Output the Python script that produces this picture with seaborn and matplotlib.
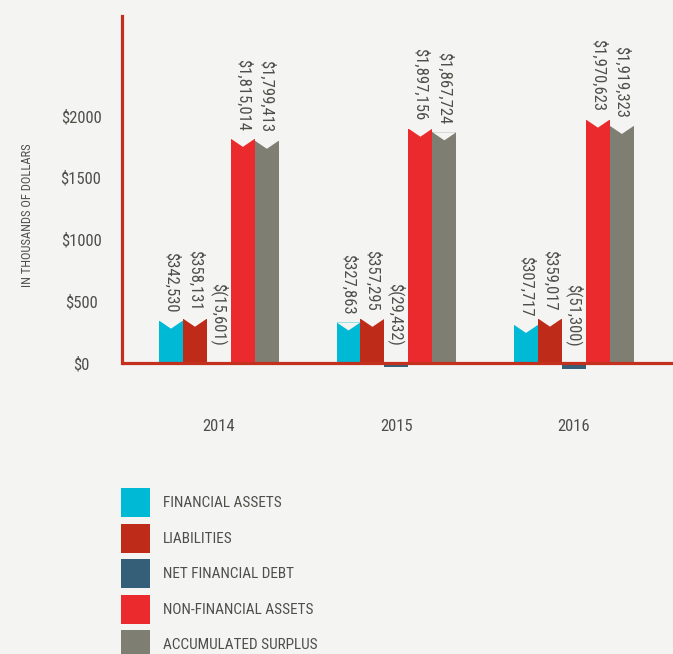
import numpy as np
import pandas as pd
import matplotlib
matplotlib.use('Agg')
import matplotlib.pyplot as plt
from matplotlib import font_manager
from matplotlib.patches import Polygon
import seaborn as sns

# data (thousands of dollars)
years = ['2014', '2015', '2016']
categories = ['FINANCIAL ASSETS', 'LIABILITIES', 'NET FINANCIAL DEBT',
              'NON-FINANCIAL ASSETS', 'ACCUMULATED SURPLUS']
financial_assets = [342530, 327863, 307717]
liabilities = [358131, 357295, 359017]
net_financial_debt = [-15601, -29432, -51300]
non_financial_assets = [1815014, 1897156, 1970623]
accumulated_surplus = [1799413, 1867724, 1919323]
yticks = [0, 500, 1000, 1500, 2000]

series = [financial_assets, liabilities, net_financial_debt,
          non_financial_assets, accumulated_surplus]
colors = ['#00b9d5', '#be2b19', '#355e79', '#eb2a2e', '#7e7e72']

rows = []
for cat, vals in zip(categories, series):
    for yr, v in zip(years, vals):
        rows.append({'year': yr, 'category': cat, 'value': v / 1000.0, 'raw': v})
df = pd.DataFrame(rows)


def fmt(v):
    if v < 0:
        return '$({:,})'.format(-v)
    return '${:,}'.format(v)


sns.set_style('white')
# pick a narrow font if one is there
fam = 'DejaVu Sans'
for name in ['Liberation Sans Narrow', 'DejaVu Sans Condensed', 'Roboto Condensed']:
    try:
        font_manager.findfont(name, fallback_to_default=False)
        fam = name
        break
    except Exception:
        pass
plt.rcParams['font.family'] = [fam, 'DejaVu Sans']

BG = '#f4f4f2'
RED = '#c3301e'
TXT = '#4f4f4a'

fig = plt.figure(figsize=(6.73, 6.54), dpi=100, facecolor=BG)
ax = fig.add_axes([122 / 673, 1 - 400 / 654, 1 - 122 / 673, 384 / 654])
ax.set_facecolor(BG)

sns.barplot(data=df, x='year', y='value', hue='category', hue_order=categories,
            order=years, palette=colors, width=0.675, saturation=1, gap=0,
            linewidth=0, ax=ax, zorder=2)

ax.set_xlim(-0.546, 2.558)
ax.set_ylim(-300, 2810)

# notch on the top of positive bars + value labels
px_per_unit = 384 / 3110.0
notch = 8 / px_per_unit
for cont, vals in zip(ax.containers, series):
    for bar, v in zip(cont, vals):
        x0 = bar.get_x()
        w = bar.get_width()
        h = bar.get_height()
        if h > 0:
            ax.add_patch(Polygon([(x0, h + 1), (x0 + w, h + 1), (x0 + w / 2, h - notch)],
                                 closed=True, facecolor=BG, edgecolor='none', zorder=3))
            off = 6
        else:
            off = 12
        ax.annotate(fmt(v), (x0 + w / 2, max(h, 0)), xytext=(0, off),
                    textcoords='offset points', rotation=-90, ha='center', va='bottom',
                    fontsize=12, color=TXT, zorder=4)

ax.axhline(0, color=RED, lw=2.3, zorder=5)
for s in ['top', 'right', 'bottom']:
    ax.spines[s].set_visible(False)
ax.spines['left'].set_color(RED)
ax.spines['left'].set_linewidth(2.3)
ax.spines['left'].set_bounds(0, 2810)

ax.set_yticks(yticks)
ax.set_yticklabels(['${}'.format(t) for t in yticks])
ax.tick_params(axis='y', length=0, pad=29.5, labelsize=12, labelcolor=TXT)
for lbl in ax.get_yticklabels():
    lbl.set_horizontalalignment('center')
ax.tick_params(axis='x', length=0, pad=14, labelsize=12, labelcolor=TXT)
ax.set_xlabel('')
ax.set_ylabel('')
fig.text(28 / 673, 1 - 215 / 654, 'IN THOUSANDS OF DOLLARS', rotation=90,
         ha='center', va='center', fontsize=9, color=TXT)

handles, labels = ax.get_legend_handles_labels()
ax.get_legend().remove()
fs = 11
box = 29 * 72 / 100.0  # square side in points
hh = (box / fs - 0.245) / 0.65
leg = fig.legend(handles, labels, loc='upper left',
                 bbox_to_anchor=(121 / 673, 1 - 488 / 654), frameon=False,
                 fontsize=fs, handlelength=box / fs, handleheight=hh,
                 labelspacing=(6.5 * 72 / 100.0) / fs, handletextpad=(13 * 72 / 100.0) / fs,
                 borderpad=0, borderaxespad=0)
for t in leg.get_texts():
    t.set_color(TXT)

fig.savefig('out.png', dpi=100, facecolor=BG)
